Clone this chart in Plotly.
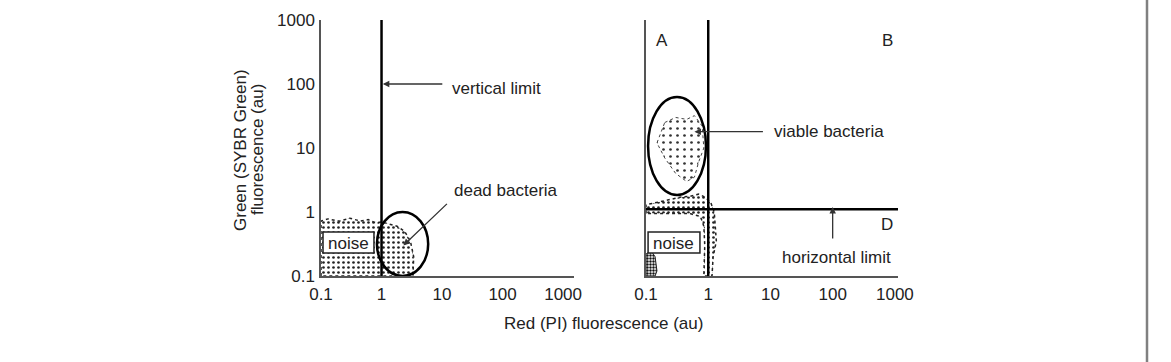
import plotly.graph_objects as go
import math

W, H = 1171, 362

# ---------------- data ----------------
tick_vals = [0.1, 1, 10, 100, 1000]
tick_text = ["0.1", "1", "10", "100", "1000"]

vertical_limit = 1.0      # red fluorescence threshold (au)
horizontal_limit = 1.1    # green fluorescence threshold (au)

# left panel: noise cloud outline (red, green)
left_cloud_x = [0.1, 0.1, 0.13, 0.2, 0.3, 0.45, 0.6, 0.8, 1.0, 1.3, 1.8, 2.4, 3.0, 3.4, 3.3, 0.1]
left_cloud_y = [0.1, 0.72, 0.78, 0.72, 0.8, 0.72, 0.76, 0.68, 0.7, 0.66, 0.6, 0.5, 0.35, 0.2, 0.1, 0.1]
# left panel: dead-bacteria ellipse bounds
dead_x = [0.84, 5.9]
dead_y = [0.1, 1.0]
# noise boxes bounds
noise_x_left = [0.108, 0.75]
noise_x_right = [0.108, 0.736]
noise_y = [0.229, 0.487]

# right panel: noise cloud outline
right_cloud_x = [0.1, 0.1, 0.2, 0.35, 0.5, 0.7, 0.9, 1.1, 1.25, 1.3, 1.35, 1.2, 1.15, 0.85, 0.88, 0.85, 0.75, 0.5, 0.1]
right_cloud_y = [0.95, 1.3, 1.5, 1.7, 1.75, 1.9, 1.7, 1.4, 1.0, 0.6, 0.35, 0.2, 0.1, 0.1, 0.3, 0.6, 0.85, 0.95, 0.95]
right_blob_x = [0.1, 0.1, 0.12, 0.14, 0.15, 0.14, 0.1]
right_blob_y = [0.1, 0.22, 0.25, 0.2, 0.12, 0.1, 0.1]
# viable bacteria cluster inside ellipse
viable_x = [0.2, 0.3, 0.45, 0.6, 0.8, 0.85, 0.7, 0.6, 0.45, 0.3, 0.2, 0.15, 0.2]
viable_y = [25, 30, 28, 32, 22, 10, 6, 3.5, 3, 4, 7, 12, 25]
viable_ell_x = [0.108, 0.92]
viable_ell_y = [1.85, 62.6]

FONT = "Liberation Sans, Arial, Helvetica, sans-serif"
FS = 17

fig = go.Figure()

dot_pattern = dict(shape=".", size=5, solidity=0.22, fgcolor="#222", bgcolor="white")

fig.add_trace(go.Scatter(x=left_cloud_x, y=left_cloud_y, fill="toself", mode="lines",
                         line=dict(color="#222", width=1.5, dash="dot"),
                         fillpattern=dot_pattern, fillcolor="white",
                         xaxis="x", yaxis="y", showlegend=False, hoverinfo="skip"))
fig.add_trace(go.Scatter(x=right_cloud_x, y=right_cloud_y, fill="toself", mode="lines",
                         line=dict(color="#222", width=1.5, dash="dot"),
                         fillpattern=dot_pattern, fillcolor="white",
                         xaxis="x2", yaxis="y2", showlegend=False, hoverinfo="skip"))
fig.add_trace(go.Scatter(x=right_blob_x, y=right_blob_y, fill="toself", mode="lines",
                         line=dict(color="#222", width=1),
                         fillpattern=dict(shape=".", size=3, solidity=0.5, fgcolor="#111", bgcolor="white"),
                         fillcolor="white",
                         xaxis="x2", yaxis="y2", showlegend=False, hoverinfo="skip"))
fig.add_trace(go.Scatter(x=viable_x, y=viable_y, fill="toself", mode="lines",
                         line=dict(color="#444", width=1, dash="dot"),
                         fillpattern=dict(shape=".", size=7, solidity=0.12, fgcolor="#333", bgcolor="white"),
                         fillcolor="white",
                         xaxis="x2", yaxis="y2", showlegend=False, hoverinfo="skip"))

axis_common = dict(type="log", showgrid=False, zeroline=False, ticks="", automargin=False,
                   tickvals=tick_vals, ticktext=tick_text,
                   tickfont=dict(family=FONT, size=FS, color="#222"),
                   showline=True, linecolor="#555", linewidth=1.5)

fig.update_layout(
    template="none",
    width=W, height=H, margin=dict(l=0, r=0, t=0, b=0, pad=0),
    paper_bgcolor="white", plot_bgcolor="rgba(0,0,0,0)",
    xaxis=dict(axis_common, range=[-1, 3.18], domain=[321 / W, 574 / W], anchor="y",
               ticklabelstandoff=2),
    yaxis=dict(axis_common, range=[-1, 3], domain=[86 / H, 342 / H], anchor="x",
               ticklabelstandoff=1),
    xaxis2=dict(axis_common, range=[-1, 3.05], domain=[646 / W, 898 / W], anchor="y2",
                ticklabelstandoff=2),
    yaxis2=dict(axis_common, range=[-1, 3], domain=[86 / H, 342 / H], anchor="x2",
                showticklabels=False),
)

shapes = []
# limits
shapes.append(dict(type="line", xref="x", yref="y", x0=vertical_limit, x1=vertical_limit,
                   y0=0.1, y1=1000, line=dict(color="black", width=2.5)))
shapes.append(dict(type="line", xref="x2", yref="y2", x0=vertical_limit, x1=vertical_limit,
                   y0=0.1, y1=1000, line=dict(color="black", width=2.5)))
shapes.append(dict(type="line", xref="x2", yref="y2", x0=0.1, x1=10 ** 3.05,
                   y0=horizontal_limit, y1=horizontal_limit, line=dict(color="black", width=2.5)))
# ellipses
shapes.append(dict(type="circle", xref="x", yref="y", x0=dead_x[0], x1=dead_x[1],
                   y0=dead_y[0], y1=dead_y[1], line=dict(color="black", width=2.5)))
shapes.append(dict(type="circle", xref="x2", yref="y2", x0=viable_ell_x[0], x1=viable_ell_x[1],
                   y0=viable_ell_y[0], y1=viable_ell_y[1], line=dict(color="black", width=2.5)))
# noise boxes
shapes.append(dict(type="rect", xref="x", yref="y", x0=noise_x_left[0], x1=noise_x_left[1],
                   y0=noise_y[0], y1=noise_y[1], fillcolor="white", layer="above",
                   line=dict(color="#222", width=1.5)))
shapes.append(dict(type="rect", xref="x2", yref="y2", x0=noise_x_right[0], x1=noise_x_right[1],
                   y0=noise_y[0], y1=noise_y[1], fillcolor="white", layer="above",
                   line=dict(color="#222", width=1.5)))
# frame line at right
shapes.append(dict(type="line", xref="paper", yref="paper", x0=1147 / W, x1=1147 / W,
                   y0=0, y1=1, line=dict(color="#808080", width=2.5)))
fig.update_layout(shapes=shapes)


def px(x):
    return x / W


def py(y):
    return 1 - y / H


font = dict(family=FONT, size=FS, color="#222")
ann = []


def text(x, y, s, xanchor="center", angle=0):
    ann.append(dict(xref="paper", yref="paper", x=px(x), y=py(y), text=s, showarrow=False,
                    xanchor=xanchor, yanchor="middle", font=font, textangle=angle))


text(450, 88, "vertical limit", "left")
text(452, 190, "dead bacteria", "left")
text(348, 243, "noise")
text(673, 243, "noise")
text(662, 41, "A")
text(887, 41, "B")
text(887, 224, "D")
text(772, 131, "viable bacteria", "left")
text(837, 257, "horizontal limit")
text(603, 323, "Red (PI) fluorescence (au)")
text(241, 150, "Green (SYBR Green)", angle=-90)
text(258, 150, "fluorescence (au)", angle=-90)

# arrows (head in data coordinates, tail offsets in pixels)
arrow = dict(showarrow=True, arrowhead=2, arrowsize=1, arrowwidth=1.3, arrowcolor="#333", text="")
ann.append(dict(arrow, xref="x", yref="y", x=math.log10(1.05), y=2.0, ax=61, ay=0))
ann.append(dict(arrow, xref="x", yref="y", x=math.log10(2.3), y=math.log10(0.3), ax=45, ay=-43))
ann.append(dict(arrow, xref="x2", yref="y2", x=math.log10(0.6), y=math.log10(18), ax=70, ay=0))
ann.append(dict(arrow, xref="x2", yref="y2", x=2.0, y=math.log10(1.2), ax=0, ay=33))

fig.update_layout(annotations=ann)

fig.write_html("out.html")
